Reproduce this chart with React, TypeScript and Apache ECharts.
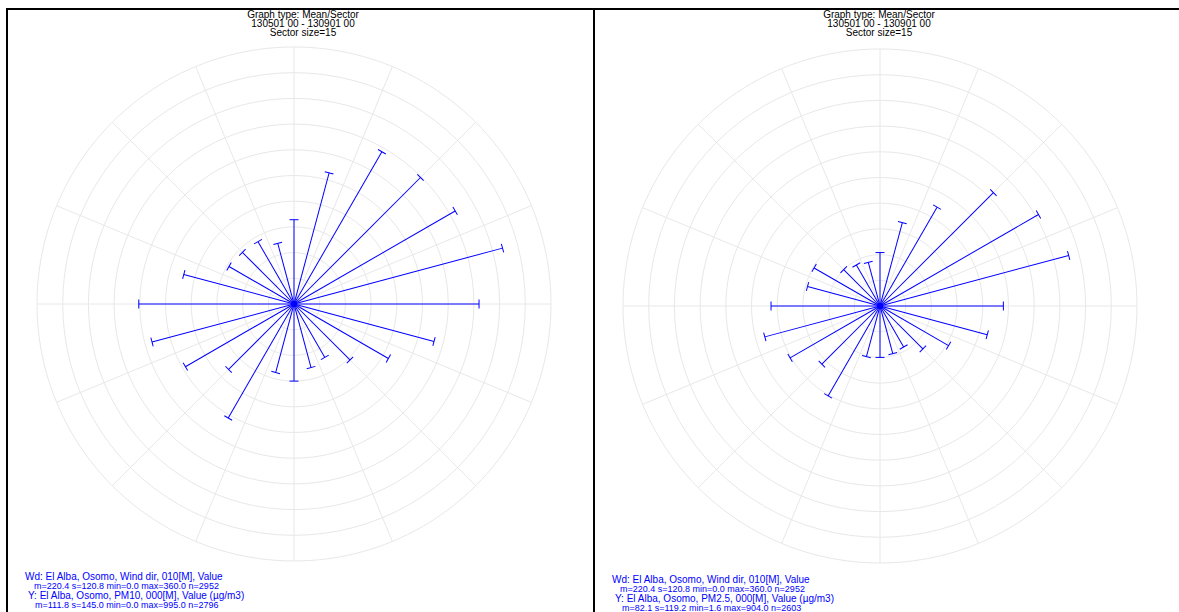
import React, { useEffect, useRef } from "react";
import * as echarts from "echarts";

const sectorAngles = [0, 15, 30, 45, 60, 75, 90, 105, 120, 135, 150, 165, 180, 195, 210, 225, 240, 255, 270, 285, 300, 315, 330, 345];
const pm10Means = [82, 132, 171, 174, 181, 210, 180, 141, 106, 77, 60, 64, 75, 69, 128, 90, 122, 143, 151, 111, 73, 71, 70, 61];
const pm25Means = [52, 84, 111, 156, 178, 190, 120, 108, 77, 59, 46, 48, 50, 51, 101, 80, 101, 116, 106, 73, 74, 50, 46, 44];

const titleLines = ["Graph type: Mean/Sector", "130501 00 - 130901 00", "Sector size=15"];
const leftInfo = [
  "Wd: El Alba, Osomo, Wind dir, 010[M], Value",
  "m=220.4 s=120.8 min=0.0 max=360.0 n=2952",
  "Y: El Alba, Osomo, PM10, 000[M], Value (µg/m3)",
  "m=111.8 s=145.0 min=0.0 max=995.0 n=2796",
];
const rightInfo = [
  "Wd: El Alba, Osomo, Wind dir, 010[M], Value",
  "m=220.4 s=120.8 min=0.0 max=360.0 n=2952",
  "Y: El Alba, Osomo, PM2.5, 000[M], Value (µg/m3)",
  "m=82.1 s=119.2 min=1.6 max=904.0 n=2603",
];

const FONT = '"Liberation Sans", Arial, sans-serif';
const GRID = "#e8e8e8";
const BLUE = "#0000ff";

function polarAxes(idx: number) {
  return {
    angle: {
      polarIndex: idx,
      type: "value",
      min: 0,
      max: 360,
      interval: 22.5,
      startAngle: 90,
      clockwise: true,
      axisLine: { show: false },
      axisTick: { show: false },
      axisLabel: { show: false },
      splitLine: { show: true, lineStyle: { color: GRID, width: 1 } },
    },
    radius: {
      polarIndex: idx,
      type: "value",
      min: 0,
      max: 250,
      interval: 25,
      axisLine: { show: false },
      axisTick: { show: false },
      axisLabel: { show: false },
      splitLine: { show: true, lineStyle: { color: GRID, width: 1 } },
    },
  };
}

function textBlock(lines: string[], x: number, ys: number[], xo: number[], sizes: number[]) {
  return lines.map((t, i) => ({
    type: "text",
    x: x + xo[i],
    y: ys[i],
    style: { text: t, fill: BLUE, font: `${sizes[i]}px ${FONT}`, textVerticalAlign: "middle", textAlign: "left" },
  }));
}

// thin filled band between two points (no stroke used)
function band(x1: number, y1: number, x2: number, y2: number, w: number) {
  const dx = x2 - x1;
  const dy = y2 - y1;
  const len = Math.sqrt(dx * dx + dy * dy) || 1;
  const ox = (-dy / len) * (w / 2);
  const oy = (dx / len) * (w / 2);
  return {
    type: "polygon",
    shape: {
      points: [
        [x1 + ox, y1 + oy],
        [x2 + ox, y2 + oy],
        [x2 - ox, y2 - oy],
        [x1 - ox, y1 - oy],
      ],
    },
    style: { fill: BLUE, stroke: null },
    z: 5,
  };
}

function barGraphics(chart: any, polarIndex: number, values: number[]) {
  const out: any[] = [];
  values.forEach((v, i) => {
    const a = sectorAngles[i];
    const c = chart.convertToPixel({ polarIndex }, [0, a]);
    const e = chart.convertToPixel({ polarIndex }, [v, a]);
    const dx = e[0] - c[0];
    const dy = e[1] - c[1];
    const len = Math.sqrt(dx * dx + dy * dy) || 1;
    const px = (-dy / len) * 4.5;
    const py = (dx / len) * 4.5;
    out.push(band(c[0], c[1], e[0], e[1], 1));
    out.push(band(e[0] - px, e[1] - py, e[0] + px, e[1] + py, 1));
  });
  return out;
}

export default function App() {
  const ref = useRef<HTMLDivElement>(null);
  useEffect(() => {
    if (!ref.current) return;
    const chart = echarts.init(ref.current, null, { renderer: "svg" });
    const l = polarAxes(0);
    const r = polarAxes(1);
    const titleGraphics = (cx: number) =>
      titleLines.map((t, i) => ({
        type: "text",
        x: cx,
        y: 14 + i * 9,
        style: { text: t, fill: "#000", font: `10px ${FONT}`, textAlign: "center", textVerticalAlign: "middle" },
      }));
    chart.setOption({
      animation: false,
      polar: [
        { center: [294, 304], radius: 257 },
        { center: [880, 306], radius: 257 },
      ],
      angleAxis: [l.angle, r.angle],
      radiusAxis: [l.radius, r.radius],
      series: [
        {
          type: "scatter",
          coordinateSystem: "polar",
          polarIndex: 0,
          symbolSize: 0,
          silent: true,
          data: pm10Means.map((v, i) => [v, sectorAngles[i]]),
        },
        {
          type: "scatter",
          coordinateSystem: "polar",
          polarIndex: 1,
          symbolSize: 0,
          silent: true,
          data: pm25Means.map((v, i) => [v, sectorAngles[i]]),
        },
      ],
    });
    chart.setOption({
      graphic: [
        { type: "rect", shape: { x: 6, y: 8, width: 1173, height: 2 }, style: { fill: "#000" } },
        { type: "rect", shape: { x: 6, y: 8, width: 2, height: 604 }, style: { fill: "#000" } },
        { type: "rect", shape: { x: 593, y: 8, width: 2, height: 604 }, style: { fill: "#000" } },
        ...barGraphics(chart, 0, pm10Means),
        ...barGraphics(chart, 1, pm25Means),
        { type: "circle", shape: { cx: 294, cy: 304, r: 3 }, style: { fill: BLUE }, z: 10 },
        { type: "circle", shape: { cx: 880, cy: 306, r: 3 }, style: { fill: BLUE }, z: 10 },
        ...titleGraphics(303),
        ...titleGraphics(879),
        ...textBlock(leftInfo, 25, [576, 585.5, 595, 604.5], [0, 9, 3, 10], [10, 9, 10, 9]),
        ...textBlock(rightInfo, 612, [579.5, 589, 598.5, 607.5], [0, 8, 3, 10], [10, 9, 10, 9]),
      ],
    });
    return () => chart.dispose();
  }, []);
  return <div ref={ref} style={{ position: "fixed", left: 0, top: 0, width: 1179, height: 612, background: "#fff" }} />;
}
